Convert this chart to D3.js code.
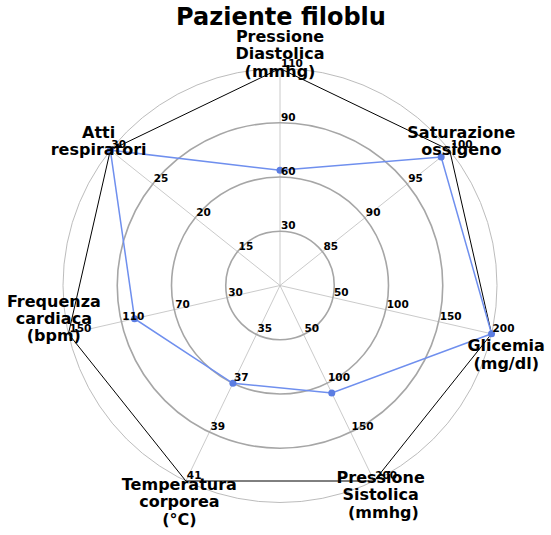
<!DOCTYPE html>
<html>
<head>
<meta charset="utf-8">
<script src="https://cdn.jsdelivr.net/npm/d3@7/dist/d3.min.js"></script>
<style>
  html, body { margin: 0; padding: 0; background: #fff; }
  svg { display: block; }
  text { font-family: "DejaVu Sans", sans-serif; font-weight: bold; }
</style>
</head>
<body>
<svg id="chart" width="551" height="535"></svg>
<script>
// ---- data ----
const title = "Paziente filoblu";
const axisLabels = [
  ["Pressione", "Diastolica", "(mmhg)"],
  ["Saturazione", "ossigeno"],
  ["Glicemia", "(mg/dl)"],
  ["Pressione", "Sistolica", " (mmhg)"],
  ["Temperatura", "corporea", "(°C)"],
  ["Frequenza", "cardiaca", "(bpm)"],
  ["Atti", "respiratori"]
];
const axisMin = [30, 85, 50, 50, 35, 30, 15];
const axisMax = [110, 100, 200, 200, 41, 150, 30];
const tickLabels = [
  ["30", "60", "90", "110"],
  ["85", "90", "95", "100"],
  ["50", "100", "150", "200"],
  ["50", "100", "150", "200"],
  ["35", "37", "39", "41"],
  ["30", "70", "110", "150"],
  ["15", "20", "25", "30"]
];
const patientValues = [60, 99, 200, 110, 37, 100, 30];
const limitValues = [110, 100, 200, 200, 41, 150, 30];

// ---- layout ----
const cx = 280, cy = 285.5;
const levels = [1, 2, 3, 4];
const rLevel = d3.scaleLinear().domain([0, 4]).range([0, 217]);
const n = axisLabels.length;
const angle = d3.scaleLinear().domain([0, n]).range([0, 2 * Math.PI]);
const axisScales = axisMin.map((m, i) =>
  d3.scaleLinear().domain([m, axisMax[i]]).range([rLevel(1), rLevel(4)]));
const labelShift = [0, 0, 17, 0, 7, -19, 0];

const svg = d3.select("#chart");
const g = svg.append("g").attr("transform", `translate(${cx},${cy})`);
const px = (i, r) => r * Math.sin(angle(i));
const py = (i, r) => -r * Math.cos(angle(i));

// spokes
g.selectAll("line.spoke").data(d3.range(n)).join("line")
  .attr("x1", 0).attr("y1", 0)
  .attr("x2", i => px(i, rLevel(4))).attr("y2", i => py(i, rLevel(4)))
  .attr("stroke", "#c4c4c4").attr("stroke-width", 0.9);

// grid circles
g.selectAll("circle.grid").data(levels).join("circle")
  .attr("r", d => rLevel(d)).attr("fill", "none")
  .attr("stroke", d => d === 4 ? "#b4b4b4" : "#a6a6a6")
  .attr("stroke-width", d => d === 4 ? 0.9 : 1.6);

// limit polygon
const lineGen = d3.line().curve(d3.curveLinearClosed);
const limitPts = limitValues.map((v, i) => [px(i, axisScales[i](v)), py(i, axisScales[i](v))]);
g.append("path").attr("d", lineGen(limitPts))
  .attr("fill", "none").attr("stroke", "#000").attr("stroke-width", 1);

// patient polygon
const patPts = patientValues.map((v, i) => [px(i, axisScales[i](v)), py(i, axisScales[i](v))]);
g.append("path").attr("d", lineGen(patPts))
  .attr("fill", "none").attr("stroke", "#6f8fee").attr("stroke-width", 1.5);
g.selectAll("circle.pt").data(patPts).join("circle")
  .attr("cx", d => d[0]).attr("cy", d => d[1]).attr("r", 3.5)
  .attr("fill", "#5b7de2");

// tick labels
tickLabels.forEach((labs, i) => {
  labs.forEach((t, k) => {
    const r = rLevel(levels[k]);
    g.append("text")
      .attr("x", px(i, r) + 1).attr("y", py(i, r) - 2)
      .attr("font-size", 10.5).attr("fill", "#000")
      .text(t);
  });
});

// axis labels
const L = 17.3;
axisLabels.forEach((lines, i) => {
  const r = 232;
  const x = px(i, r), y = py(i, r);
  const base = y - (lines.length - 1) * L / 2 + 5.8 + labelShift[i];
  const t = g.append("text").attr("text-anchor", "middle")
    .attr("font-size", 16).attr("fill", "#000")
    .attr("xml:space", "preserve");
  lines.forEach((ln, j) => {
    t.append("tspan").attr("x", x).attr("y", base + j * L).text(ln);
  });
});

// title
svg.append("text").attr("x", 281).attr("y", 25)
  .attr("text-anchor", "middle").attr("font-size", 24).attr("fill", "#000")
  .text(title);
</script>
</body>
</html>
